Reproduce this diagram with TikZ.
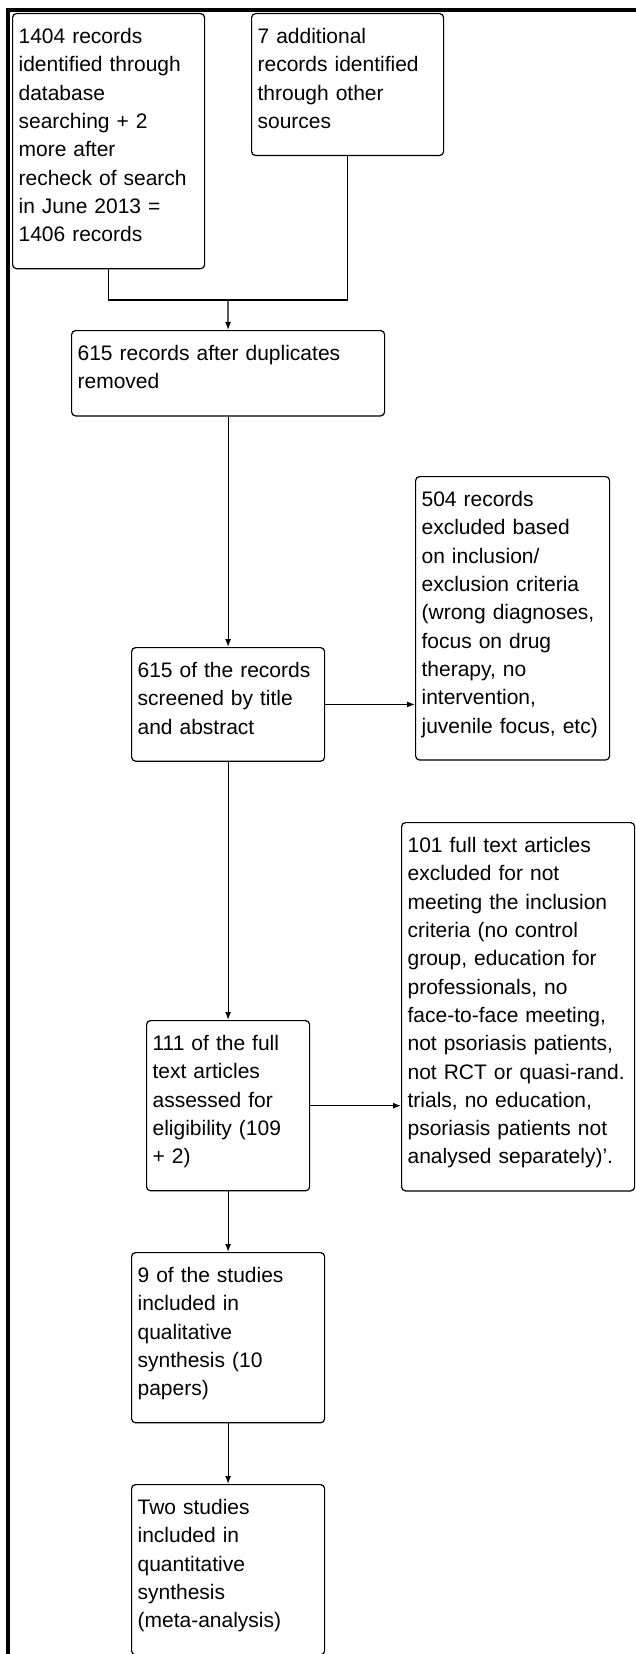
\documentclass[tikz,border=0pt]{standalone}
\usepackage{fontspec}
\setmainfont{Liberation Sans}
\usetikzlibrary{calc}
\usetikzlibrary{arrows.meta}
\newcommand{\topgap}{\rule{0pt}{30pt}}
\newcommand{\botgap}{\rule[-27pt]{0pt}{27pt}}
\tikzset{
 flowbox/.style={draw, line width=1.2pt, rounded corners=4pt, anchor=north west, align=left,
  inner xsep=6pt, inner ysep=0pt, font=\fontsize{21}{28.3}\selectfont,
  execute at begin node=\topgap, execute at end node=\botgap},
}
\begin{document}
\begin{tikzpicture}[x=1pt, y=-1pt]
\useasboundingbox (0,0) rectangle (636,1654);
\draw[black, line width=3.3pt] (8,1654)--(8,10)--(636,10);
\node[flowbox, text width=180pt] (recdb) at (12,13) {1404 records\\ identified through\\ database\\ searching + 2\\ more after\\ recheck of search\\ in June 2013 =\\ 1406 records};
\node[flowbox, text width=180pt] (recother) at (251,13) {7 additional\\ records identified\\ through other\\ sources};
\node[flowbox, text width=301pt] (dupl) at (71,330) {615 records after duplicates\\ removed};
\node[flowbox, text width=182pt] (exclone) at (415,476) {504 records\\ excluded based\\ on inclusion/\\ exclusion criteria\\ (wrong diagnoses,\\ focus on drug\\ therapy, no\\ intervention,\\ juvenile focus, etc)};
\node[flowbox, text width=181pt] (screen) at (131,647) {615 of the records\\ screened by title\\ and abstract};
\node[flowbox, text width=221pt] (excltwo) at (401,822) {101 full text articles\\ excluded for not\\ meeting the inclusion\\ criteria (no control\\ group, education for\\ professionals, no\\ face-to-face meeting,\\ not psoriasis patients,\\ not RCT or quasi-rand.\\ trials, no education,\\ psoriasis patients not\\ analysed separately)'.};
\node[flowbox, text width=151pt] (fulltext) at (146,1020) {111 of the full\\ text articles\\ assessed for\\ eligibility (109\\ + 2)};
\node[flowbox, text width=181pt] (qual) at (131,1252) {9 of the studies\\ included in\\ qualitative\\ synthesis (10\\ papers)};
\node[flowbox, text width=181pt] (quant) at (131,1484) {Two studies\\ included in\\ quantitative\\ synthesis\\ (meta-analysis)};
\coordinate (join) at (228,300);
\draw[black, line width=1.2pt] (recdb.south) |- (join) -| (recother.south);
\draw[black, line width=1.2pt, ->, >={Latex[length=8pt,width=6pt]}] (join)--(dupl.north);
\foreach \a/\b in {dupl/screen, screen/fulltext, fulltext/qual, qual/quant} {
 \draw[black, line width=1.2pt, ->, >={Latex[length=8pt,width=6pt]}] (\a.south)--(\b.north);
}
\draw[black, line width=1.2pt, ->, >={Latex[length=8pt,width=6pt]}] (screen.east)--(screen.east -| exclone.west);
\draw[black, line width=1.2pt, ->, >={Latex[length=8pt,width=6pt]}] (fulltext.east)--(fulltext.east -| excltwo.west);
\end{tikzpicture}
\end{document}
